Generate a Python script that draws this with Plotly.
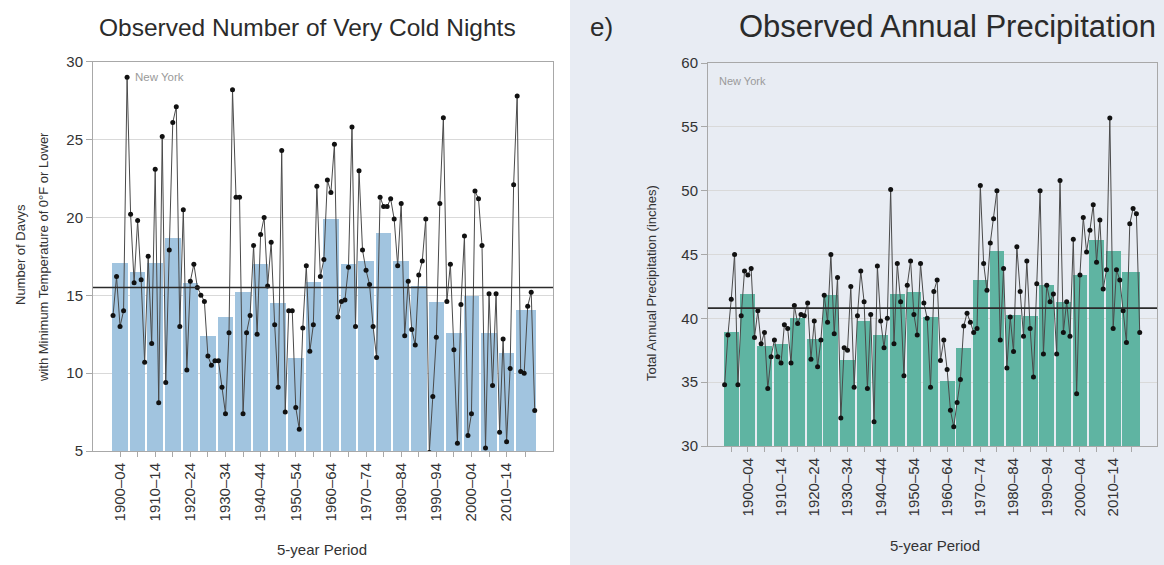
import plotly.graph_objects as go

# ---------------- Data: Very cold nights (New York) ----------------
cold_years = list(range(1900, 2021))
cold_values = [
    13.7, 16.2, 13.0, 14.0, 29.0, 20.2, 15.8, 19.8, 16.0, 10.7,
    17.5, 11.9, 23.1, 8.1, 25.2, 9.4, 17.9, 26.1, 27.1, 13.0,
    20.5, 10.2, 15.9, 17.0, 15.5, 15.0, 14.6, 11.1, 10.5, 10.8,
    10.8, 9.1, 7.4, 12.6, 28.2, 21.3, 21.3, 7.4, 12.6, 13.7,
    18.2, 12.5, 18.9, 20.0, 15.6, 18.4, 13.1, 9.1, 24.3, 7.5,
    14.0, 14.0, 7.8, 6.4, 12.9, 16.9, 11.4, 13.1, 22.0, 16.2,
    17.3, 22.4, 21.6, 24.7, 13.6, 14.6, 14.7, 16.8, 25.8, 13.0,
    23.0, 17.9, 16.6, 15.7, 13.0, 11.0, 21.3, 20.7, 20.7, 21.2,
    19.9, 16.9, 20.9, 12.4, 15.9, 12.8, 11.8, 16.3, 17.2, 19.9,
    4.9, 8.5, 12.3, 20.9, 26.4, 14.6, 17.0, 11.5, 5.5, 14.4,
    18.8, 6.0, 7.4, 21.7, 21.2, 18.2, 5.2, 15.1, 9.2, 15.1,
    6.2, 12.2, 5.6, 10.3, 22.1, 27.8, 10.1, 10.0, 14.3, 15.2,
    7.6,
]
cold_periods = [(1900, 1904), (1905, 1909), (1910, 1914), (1915, 1919), (1920, 1924),
                (1925, 1929), (1930, 1934), (1935, 1939), (1940, 1944), (1945, 1949),
                (1950, 1954), (1955, 1959), (1960, 1964), (1965, 1969), (1970, 1974),
                (1975, 1979), (1980, 1984), (1985, 1989), (1990, 1994), (1995, 1999),
                (2000, 2004), (2005, 2009), (2010, 2014), (2015, 2020)]
cold_bar_values = [17.1, 16.5, 17.1, 18.7, 15.8, 12.4, 13.6, 15.2, 17.0, 14.5,
                   11.0, 15.9, 19.9, 17.0, 17.2, 19.0, 17.2, 15.6, 14.6, 12.6,
                   15.0, 12.6, 11.3, 14.1]
cold_average = 15.5

# ---------------- Data: Annual precipitation (New York) ----------------
precip_years = list(range(1895, 2021))
precip_values = [
    34.8, 38.7, 41.5, 45.0, 34.8,   40.2, 43.7, 43.4, 43.9, 38.5,
    40.6, 38.0, 38.9, 34.5, 37.0,   38.3, 37.0, 36.5, 39.5, 39.2,
    36.5, 41.0, 39.6, 40.3, 40.2,   41.2, 36.8, 39.8, 36.2, 38.3,
    41.8, 39.7, 45.0, 38.8, 43.2,   32.2, 37.7, 37.5, 42.5, 34.6,
    40.2, 43.7, 41.3, 34.5, 40.3,   31.9, 44.1, 39.8, 37.7, 40.0,
    50.1, 38.0, 44.3, 41.3, 35.5,   42.6, 44.5, 40.3, 38.7, 44.3,
    41.2, 40.0, 34.6, 42.1, 43.0,   36.7, 38.3, 36.0, 32.8, 31.5,
    33.4, 35.2, 39.4, 40.4, 39.7,   38.9, 39.2, 50.4, 44.3, 42.2,
    45.9, 47.8, 50.0, 38.3, 43.9,   36.1, 40.1, 37.4, 45.6, 42.1,
    38.6, 44.5, 39.2, 35.4, 42.7,   50.0, 37.2, 42.6, 41.3, 41.9,
    37.2, 50.8, 38.9, 41.3, 38.6,   46.2, 34.1, 43.4, 47.9, 45.2,
    46.9, 48.9, 44.4, 47.7, 42.3,   43.8, 55.7, 39.2, 43.8, 43.0,
    40.6, 38.1, 47.4, 48.6, 48.2, 38.9,
]
precip_periods = [(1895, 1899), (1900, 1904), (1905, 1909), (1910, 1914), (1915, 1919),
                  (1920, 1924), (1925, 1929), (1930, 1934), (1935, 1939), (1940, 1944),
                  (1945, 1949), (1950, 1954), (1955, 1959), (1960, 1964), (1965, 1969),
                  (1970, 1974), (1975, 1979), (1980, 1984), (1985, 1989), (1990, 1994),
                  (1995, 1999), (2000, 2004), (2005, 2009), (2010, 2014), (2015, 2020)]
precip_bar_values = [38.9, 41.9, 37.8, 38.0, 40.0, 38.4, 41.8, 36.7, 39.8, 38.7,
                     41.9, 42.1, 40.1, 35.1, 37.7, 43.0, 45.3, 40.3, 40.2, 42.6,
                     41.3, 43.4, 46.1, 45.3, 43.6]
precip_average = 40.8

# ---------------- Helpers ----------------
def centers(periods):
    return [(a + b) / 2 for a, b in periods]

def widths(periods):
    return [(b - a + 1) - 0.55 for a, b in periods]

def labels(periods):
    return [f"{a}\u2013{str(b)[-2:]}" if a % 10 == 0 and a <= 2010 else "" for a, b in periods]

FONT = "Liberation Sans, Arial, sans-serif"
GRID = "#d9d9d9"
AXIS = "#a8a8a8"
TXT = "#333333"

fig = go.Figure()

fig.add_trace(go.Bar(x=centers(cold_periods), y=cold_bar_values, width=widths(cold_periods),
                     marker=dict(color="#a1c4df", line=dict(width=0)),
                     xaxis="x", yaxis="y", showlegend=False, hoverinfo="skip"))
fig.add_trace(go.Scatter(x=cold_years, y=cold_values, mode="lines+markers",
                         line=dict(color="#4a4a4a", width=1),
                         marker=dict(color="#111111", size=5),
                         xaxis="x", yaxis="y", showlegend=False))
fig.add_trace(go.Bar(x=centers(precip_periods), y=precip_bar_values, width=widths(precip_periods),
                     marker=dict(color="#5fb4a2", line=dict(width=0)),
                     xaxis="x2", yaxis="y2", showlegend=False, hoverinfo="skip"))
fig.add_trace(go.Scatter(x=precip_years, y=precip_values, mode="lines+markers",
                         line=dict(color="#4a4a4a", width=1),
                         marker=dict(color="#111111", size=5),
                         xaxis="x2", yaxis="y2", showlegend=False))

W, H = 1164, 565
L1, R1, T1, B1 = 93, 553, 61.7, 451
L2, R2, T2, B2 = 708, 1157, 63, 446

xcommon = dict(showgrid=False, zeroline=False, showline=True, linecolor=AXIS, mirror=True,
               ticks="outside", ticklen=5, tickcolor=AXIS, tickangle=-90, automargin=False,
               tickfont=dict(family=FONT, size=15, color=TXT))
ycommon = dict(showgrid=True, gridcolor=GRID, gridwidth=1, zeroline=False, showline=True,
               linecolor=AXIS, mirror=True, ticks="outside", ticklen=6, tickcolor=AXIS,
               automargin=False, tickfont=dict(family=FONT, size=15, color=TXT))

def txt(text, x, y, size, color="#2b2b2b", angle=0, xanchor="center"):
    return dict(text=text, xref="paper", yref="paper", x=x / W, y=1 - y / H, showarrow=False,
                xanchor=xanchor, yanchor="middle", textangle=angle,
                font=dict(family=FONT, size=size, color=color))

fig.update_layout(
    width=W, height=H,
    margin=dict(l=0, r=0, t=0, b=0),
    paper_bgcolor="white", plot_bgcolor="white",
    bargap=0,
    xaxis=dict(xcommon, domain=[L1 / W, R1 / W], range=[1894.3, 2025.2],
               tickvals=centers(cold_periods), ticktext=labels(cold_periods), anchor="y"),
    yaxis=dict(ycommon, domain=[1 - B1 / H, 1 - T1 / H], range=[5, 30], dtick=5, anchor="x"),
    xaxis2=dict(xcommon, domain=[L2 / W, R2 / W], range=[1890, 2025.2],
                tickvals=centers(precip_periods), ticktext=labels(precip_periods), anchor="y2"),
    yaxis2=dict(ycommon, domain=[1 - B2 / H, 1 - T2 / H], range=[30, 60], dtick=5, anchor="x2"),
    shapes=[
        dict(type="rect", xref="paper", yref="paper", x0=570 / W, x1=1, y0=0, y1=1,
             fillcolor="#e8ecf3", line=dict(width=0), layer="below"),
        dict(type="line", xref="x domain", yref="y", x0=0, x1=1, y0=cold_average, y1=cold_average,
             line=dict(color="#2b2b2b", width=1.6)),
        dict(type="line", xref="x2 domain", yref="y2", x0=0, x1=1, y0=precip_average, y1=precip_average,
             line=dict(color="#2b2b2b", width=1.6)),
    ],
    annotations=[
        txt("Observed Number of Very Cold Nights", 307, 28, 24.5),
        txt("Observed Annual Precipitation", 947, 27, 31),
        txt("e)", 588, 27, 26, xanchor="left"),
        txt("Number of Davys", 20, 255, 13, color=TXT, angle=-90),
        txt("with Minimum Temperature of 0°F or Lower", 43, 257, 13, color=TXT, angle=-90),
        txt("Total Annual Precipitation (inches)", 651, 283, 13, color=TXT, angle=-90),
        txt("5-year Period", 322, 549, 15, color=TXT),
        txt("5-year Period", 935, 545, 15, color=TXT),
        dict(text="New York", xref="x domain", yref="y domain", x=0.087, y=0.98,
             showarrow=False, xanchor="left", yanchor="top",
             font=dict(family=FONT, size=11.5, color="#9a9a9a")),
        dict(text="New York", xref="x2 domain", yref="y2 domain", x=0.02, y=0.975,
             showarrow=False, xanchor="left", yanchor="top",
             font=dict(family=FONT, size=11, color="#9a9a9a")),
    ],
)

fig.write_html("out.html", config={"displayModeBar": False},
               post_script="document.body.style.margin='0px';")
